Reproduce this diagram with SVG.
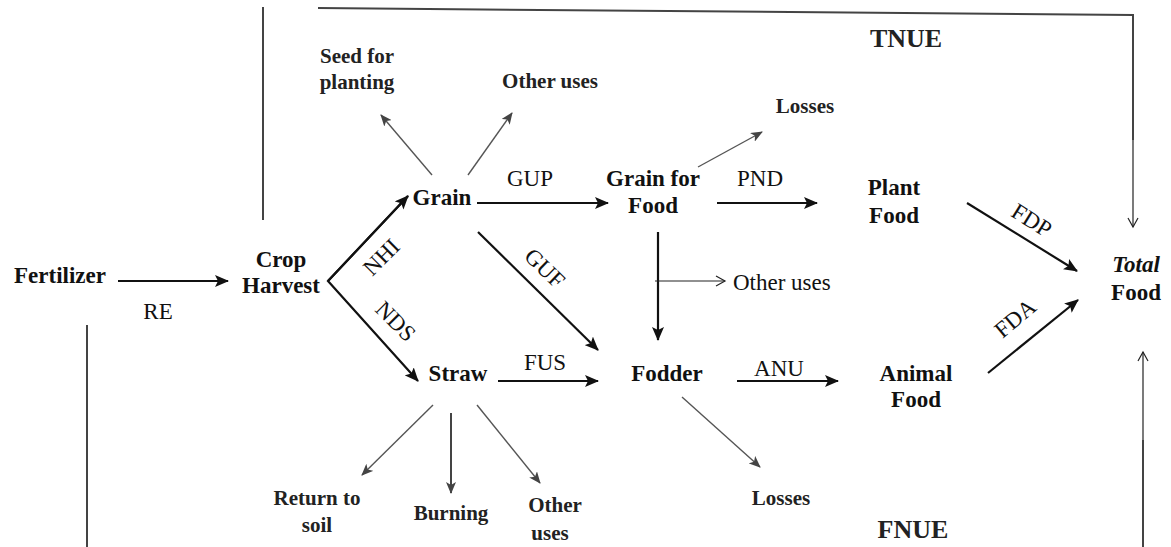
<svg xmlns="http://www.w3.org/2000/svg" width="1171" height="547" viewBox="0 0 1171 547">
<style>
text{font-family:"Liberation Serif","Times New Roman",serif;fill:#111;text-anchor:middle}
.n{font-weight:bold;font-size:23px}
.s{font-weight:bold;font-size:21px;fill:#222}
.l{font-size:23px}
.t{font-weight:bold;font-size:26px;fill:#222}
.main{stroke:#111;stroke-width:2.2;fill:none}
.thin{stroke:#555;stroke-width:1.4;fill:none}
.br{stroke:#444;stroke-width:2;fill:none}
.op{stroke:#222;stroke-width:1.2;fill:none}
</style>
<defs>
<marker id="ah" markerUnits="userSpaceOnUse" markerWidth="14" markerHeight="12" refX="13" refY="6" orient="auto"><path d="M0,0 L14,6 L0,12 L3,6 z" fill="#111"/></marker>
<marker id="ag" markerUnits="userSpaceOnUse" markerWidth="12" markerHeight="10" refX="11" refY="5" orient="auto"><path d="M0,0 L12,5 L0,10 L3,5 z" fill="#444"/></marker>
<marker id="ao" markerUnits="userSpaceOnUse" markerWidth="12" markerHeight="12" refX="10" refY="6" orient="auto"><path d="M1,1 L10,6 L1,11" fill="none" stroke="#222" stroke-width="1.2"/></marker>
</defs>
<g id="connectors">
<polyline class="br" points="263,7 263,220"/>
<polyline class="br" points="318,8 1133,15 1133,140"/>
<line class="op" x1="1133" y1="140" x2="1133" y2="227" marker-end="url(#ao)"/>
<line class="br" x1="87" y1="325" x2="87" y2="547"/>
<line class="br" x1="1143" y1="547" x2="1143" y2="440"/>
<line class="op" x1="1143" y1="440" x2="1143" y2="352" marker-end="url(#ao)"/>
<line class="main" x1="118" y1="281" x2="228" y2="281" marker-end="url(#ah)"/>
<polyline class="main" points="408,196 328,281 418,381" marker-end="url(#ah)"/>
<line class="main" x1="328" y1="281" x2="408" y2="196" marker-end="url(#ah)"/>
<line class="main" x1="477" y1="203" x2="608" y2="203" marker-end="url(#ah)"/>
<line class="main" x1="717" y1="203" x2="817" y2="203" marker-end="url(#ah)"/>
<line class="main" x1="478" y1="232" x2="598" y2="350" marker-end="url(#ah)"/>
<line class="main" x1="658" y1="232" x2="658" y2="340" marker-end="url(#ah)"/>
<line class="main" x1="498" y1="381" x2="598" y2="381" marker-end="url(#ah)"/>
<line class="main" x1="737" y1="381" x2="838" y2="381" marker-end="url(#ah)"/>
<line class="main" x1="967" y1="203" x2="1077" y2="271" marker-end="url(#ah)"/>
<line class="main" x1="988" y1="373" x2="1078" y2="300" marker-end="url(#ah)"/>
<line class="op" x1="655" y1="281" x2="725" y2="281" marker-end="url(#ao)"/>
<line class="thin" x1="432" y1="175" x2="381" y2="115" marker-end="url(#ag)"/>
<line class="thin" x1="468" y1="175" x2="512" y2="113" marker-end="url(#ag)"/>
<line class="thin" x1="698" y1="167" x2="762" y2="132" marker-end="url(#ag)"/>
<line class="thin" x1="682" y1="397" x2="760" y2="467" marker-end="url(#ag)"/>
<line class="thin" x1="433" y1="405" x2="362" y2="475" marker-end="url(#ag)"/>
<line class="br" x1="451" y1="413" x2="451" y2="493" marker-end="url(#ag)"/>
<line class="thin" x1="477" y1="405" x2="540" y2="483" marker-end="url(#ag)"/>
</g>
<g id="edge-labels">
<text class="l" x="158" y="319">RE</text>
<text class="l" transform="translate(381,257) rotate(-45)" y="8">NHI</text>
<text class="l" transform="translate(396,321) rotate(45)" y="8">NDS</text>
<text class="l" x="530" y="186">GUP</text>
<text class="l" x="760" y="186">PND</text>
<text class="l" transform="translate(545,268) rotate(44)" y="8">GUF</text>
<text class="l" x="545" y="370">FUS</text>
<text class="l" x="779" y="376">ANU</text>
<text class="l" transform="translate(1032,220) rotate(32)" y="8">FDP</text>
<text class="l" transform="translate(1015,318) rotate(-40)" y="8">FDA</text>
</g>
<g id="fertilizer"><text class="n" x="60" y="283">Fertilizer</text></g>
<g id="crop-harvest"><text class="n" x="281" y="267">Crop</text><text class="n" x="281" y="293">Harvest</text></g>
<g id="grain"><text class="n" x="442" y="205">Grain</text></g>
<g id="straw"><text class="n" x="458" y="381">Straw</text></g>
<g id="grain-for-food"><text class="n" x="653" y="186">Grain for</text><text class="n" x="653" y="213">Food</text></g>
<g id="plant-food"><text class="n" x="894" y="195">Plant</text><text class="n" x="894" y="223">Food</text></g>
<g id="fodder"><text class="n" x="667" y="381">Fodder</text></g>
<g id="animal-food"><text class="n" x="916" y="381">Animal</text><text class="n" x="916" y="407">Food</text></g>
<g id="total-food"><text class="n" x="1136" y="272" font-style="italic">Total</text><text class="n" x="1136" y="300">Food</text></g>
<g id="seed"><text class="s" x="357" y="63">Seed for</text><text class="s" x="357" y="89">planting</text></g>
<g id="other-uses-grain"><text class="s" x="550" y="88">Other uses</text></g>
<g id="losses-top"><text class="s" x="805" y="113">Losses</text></g>
<g id="other-uses-mid"><text class="l" x="733" y="290" style="text-anchor:start">Other uses</text></g>
<g id="losses-bottom"><text class="s" x="781" y="505">Losses</text></g>
<g id="return-to-soil"><text class="s" x="317" y="505">Return to</text><text class="s" x="317" y="532">soil</text></g>
<g id="burning"><text class="s" x="451" y="520">Burning</text></g>
<g id="other-uses-straw"><text class="s" x="555" y="512">Other</text><text class="s" x="550" y="540">uses</text></g>
<g id="tnue"><text class="t" x="906" y="47">TNUE</text></g>
<g id="fnue"><text class="t" x="913" y="538">FNUE</text></g>
</svg>
